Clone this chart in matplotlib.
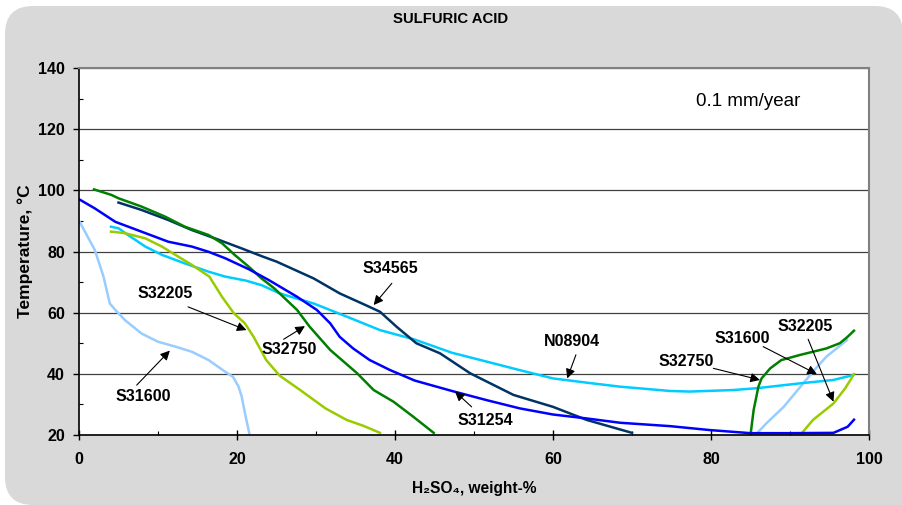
import matplotlib
matplotlib.use("Agg")
from matplotlib import pyplot as plt
from matplotlib.patches import FancyBboxPatch, Rectangle
from matplotlib.transforms import IdentityTransform

plt.rcParams['font.family'] = ['Liberation Sans', 'DejaVu Sans']

# S31600 (two branches)
s31600_x = [0, 2.0, 3.1, 3.9, 4.6, 5.8, 7.9, 10, 12.2, 14.3, 16.4, 18.5, 19.5, 20.2, 20.6, 21.0, 21.6]
s31600_y = [90.1, 80.5, 71.8, 63, 60.9, 57.6, 53.2, 50.5, 48.9, 47.2, 44.5, 40.7, 39, 35.8, 32.5, 27.2, 20]
s31600r_x = [85.8, 87.0, 89.2, 92.9, 94.6, 97.2]
s31600r_y = [20.5, 23.8, 29.2, 40.7, 45.6, 51.0]

# S32205
s32205_x = [4.05, 5.8, 8.4, 10.5, 12.2, 14.3, 16.5, 18.1, 19.6, 21.0, 22.1, 23.7, 25.4, 28.0, 31.2, 33.9, 36.0, 38.1]
s32205_y = [86.5, 86.0, 84.3, 81.6, 78.9, 75.6, 71.8, 65.2, 59.8, 56.5, 52.1, 44.5, 39.4, 34.7, 28.7, 24.9, 23.0, 20.7]
s32205r_x = [91.3, 92.9, 95.5, 97.0, 98.1]
s32205r_y = [20.0, 24.9, 30.3, 35.3, 39.9]

# S32750
s32750_x = [1.9, 4.1, 5.0, 7.9, 10.9, 13.4, 16.4, 18.1, 19.7, 21.5, 23.1, 24.7, 27.6, 29.2, 31.8, 35.2, 37.3, 39.8, 42.3, 44.9]
s32750_y = [100.3, 98.5, 97.4, 94.7, 91.4, 88.1, 85.4, 82.7, 78.9, 75.0, 71.2, 68.0, 60.9, 55.4, 47.8, 40.2, 34.7, 30.9, 26.0, 20.7]
s32750r_x = [85.0, 85.4, 86.0, 86.4, 87.5, 88.9, 91.3, 94.6, 96.3, 97.2, 98.1]
s32750r_y = [20.0, 28.2, 35.8, 38.5, 41.8, 44.5, 46.2, 48.3, 50.0, 51.9, 54.1]

# S34565
s34565_x = [5.0, 7.9, 11.3, 14.3, 17.2, 20.6, 23.3, 25.0, 29.7, 33.0, 36.0, 38.1, 40.2, 42.7, 45.7, 49.5, 55.0, 60.0, 64.3, 70.0]
s34565_y = [96.0, 93.6, 90.3, 87.0, 84.3, 81.0, 78.3, 76.7, 71.2, 66.3, 62.8, 60.3, 55.4, 50.0, 46.7, 40.2, 33.1, 29.2, 24.9, 20.7]

# S31254
s31254_x = [0, 2.0, 4.6, 7.9, 11.3, 14.3, 16.4, 18.5, 21.5, 24.0, 27.6, 30.1, 31.8, 33.0, 34.7, 36.8, 39.4, 42.5, 47.2,
            51.6, 55.8, 60.0, 64.3, 68.5, 74.8, 79.9, 85.0, 90.0, 95.5, 97.3, 98.1]
s31254_y = [97.1, 94.1, 89.7, 86.5, 83.2, 81.6, 79.9, 77.8, 74.2, 70.7, 65.2, 60.9, 56.5, 52.1, 48.3, 44.5, 41.2, 37.8, 34.4,
            31.4, 28.7, 26.7, 25.4, 24.0, 22.9, 21.6, 20.6, 20.6, 20.7, 22.7, 25.0]

# N08904
n08904_x = [4.05, 5.0, 6.2, 8.4, 10.5, 13.4, 16.4, 18.5, 21.1, 23.1, 25.4, 29.7, 33.9, 38.1, 42.5, 47.2, 51.6, 55.8, 60.0,
            64.3, 68.5, 74.8, 77.3, 82.8, 85.8, 91.3, 95.5, 98.0]
n08904_y = [88.1, 87.6, 85.4, 81.6, 78.9, 76.1, 73.4, 71.8, 70.5, 69.0, 66.3, 63.0, 58.7, 54.3, 51.2, 46.9, 44.0, 41.2, 38.5,
            37.1, 35.8, 34.4, 34.2, 34.7, 35.3, 36.9, 38.0, 39.6]

# annotations: label, text position, arrow tail, arrow head
ann_labels = ['S34565', 'S32205', 'S32750', 'S31600', 'S31254', 'N08904', 'S32750', 'S31600', 'S32205']
ann_text = [(39.4, 74.6), (10.9, 66.3), (26.6, 47.8), (8.1, 32.7), (51.4, 24.9), (62.4, 50.5), (76.9, 44.0), (83.9, 51.6), (91.9, 55.6)]
ann_tail = [(39.6, 69.6), (13.8, 61.9), (25.9, 51.3), (7.3, 36.3), (49.7, 29.2), (62.9, 46.2), (80.3, 41.8), (86.6, 48.9), (92.3, 51.3)]
ann_head = [(37.3, 62.5), (21.2, 54.3), (28.6, 55.6), (11.5, 47.6), (47.6, 34.2), (61.8, 38.5), (86.2, 38.0), (93.4, 39.9), (95.5, 30.9)]

c_316 = '#99ccff'
c_2205 = '#99cc00'
c_2750 = '#008000'
c_4565 = '#003366'
c_1254 = '#0000ff'
c_904 = '#00ccff'

fig = plt.figure(figsize=(9.02, 5.05), dpi=100)
fig.patch.set_facecolor('white')
# gray rounded background (pixel coords)
bg = FancyBboxPatch((5, 0), 898, 499, boxstyle="round,pad=0,rounding_size=28",
                    transform=IdentityTransform(), facecolor='#d9d9d9', edgecolor='none', zorder=-10)
fig.patches.append(bg)
fig.patches.append(Rectangle((840, 0), 70, 60, transform=IdentityTransform(),
                             facecolor='#d9d9d9', edgecolor='none', zorder=-10))

ax = fig.add_axes([79 / 902, 1 - 435 / 505, 790 / 902, 367 / 505])
ax.set_facecolor('white')

lw = 1.8
ax.plot(s31600_x, s31600_y, c=c_316, lw=lw)
ax.plot(s31600r_x, s31600r_y, c=c_316, lw=lw)
ax.plot(n08904_x, n08904_y, c=c_904, lw=lw)
ax.plot(s32205_x, s32205_y, c=c_2205, lw=lw)
ax.plot(s32205r_x, s32205r_y, c=c_2205, lw=lw)
ax.plot(s34565_x, s34565_y, c=c_4565, lw=lw)
ax.plot(s32750_x, s32750_y, c=c_2750, lw=lw)
ax.plot(s32750r_x, s32750r_y, c=c_2750, lw=lw)
ax.plot(s31254_x, s31254_y, c=c_1254, lw=lw)

for lab, tp, tl, hd in zip(ann_labels, ann_text, ann_tail, ann_head):
    ax.text(tp[0], tp[1], lab, ha='center', va='center', fontsize=11.5, fontweight='bold')
    ax.annotate('', xy=hd, xytext=tl,
                arrowprops=dict(arrowstyle='-|>', color='black', lw=0.8, mutation_scale=14,
                                shrinkA=0, shrinkB=0))

ax.text(84.7, 128.9, '0.1 mm/year', ha='center', va='center', fontsize=13.5)

ax.set_xlim(0, 100)
ax.set_ylim(20, 140)
ax.set_xticks(range(0, 101, 20))
ax.set_yticks(range(20, 141, 20))
ax.set_xticks(range(10, 100, 20), minor=True)
ax.set_yticks(range(30, 140, 20), minor=True)
ax.grid(axis='y', which='major', color='#404040', lw=0.9)
ax.tick_params(axis='x', which='major', direction='inout', length=7, width=1, pad=9, labelsize=11.5)
ax.tick_params(axis='y', which='major', direction='out', length=4, width=1, pad=6, labelsize=11.5)
ax.tick_params(which='minor', direction='in', length=3, width=0.8)
for lbl in ax.get_xticklabels() + ax.get_yticklabels():
    lbl.set_fontweight('bold')

for s in ['left', 'bottom']:
    ax.spines[s].set_color('black')
    ax.spines[s].set_linewidth(1.2)
for s in ['top', 'right']:
    ax.spines[s].set_color('#808080')
    ax.spines[s].set_linewidth(1.5)

ax.set_xlabel('H₂SO₄, weight-%', fontsize=11.2, fontweight='bold', labelpad=10)
ax.set_ylabel('Temperature, °C', fontsize=12.5, fontweight='bold', labelpad=4)
fig.text(0.5, 1 - 19 / 505, 'SULFURIC ACID', ha='center', va='center', fontsize=10.7, fontweight='bold')

fig.savefig('out.png', dpi=100)
